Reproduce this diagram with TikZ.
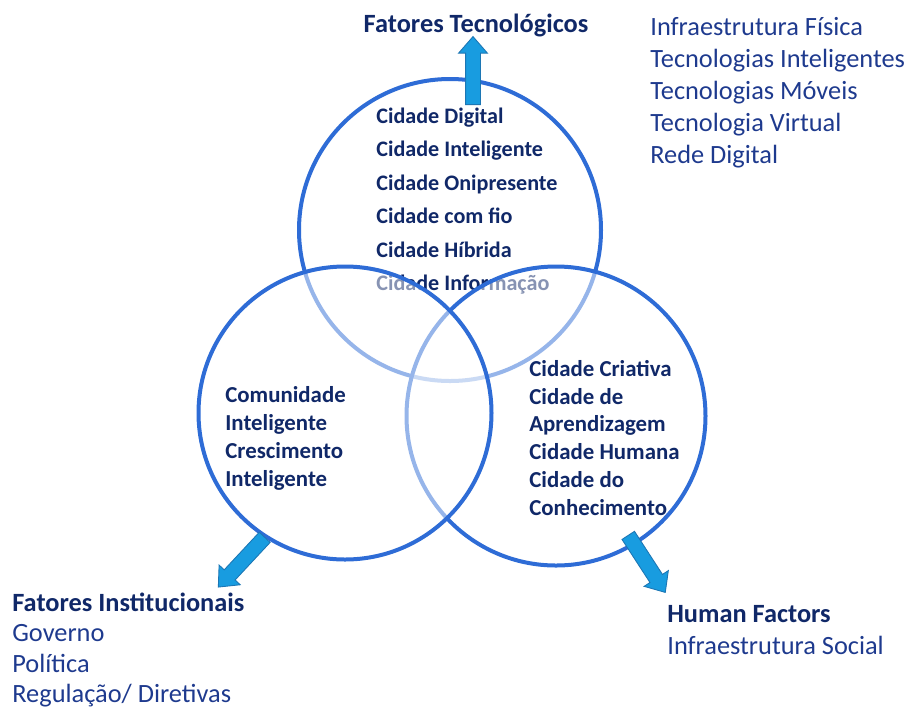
\documentclass[tikz,border=0pt]{standalone}
\usepackage{fontspec}
\setmainfont{Carlito}
\usepackage{tikz}
\usetikzlibrary{shapes.arrows, positioning}
\definecolor{citynavy}{RGB}{16, 40, 104}
\definecolor{cityblue}{RGB}{30, 58, 142}
\definecolor{ringblue}{RGB}{46, 108, 214}
\definecolor{arrowfill}{RGB}{24, 156, 224}
\definecolor{arrowedge}{RGB}{28, 118, 180}

\begin{document}
\begin{tikzpicture}[
    ring/.style={draw=ringblue, line width=0.08cm, fill=white, fill opacity=0.5},
    cityblock/.style={text=citynavy, align=left, anchor=west, inner sep=0pt},
    factorlist/.style={text=cityblue, align=left, anchor=west, inner sep=0pt},
    fatarrow/.style={single arrow, draw=arrowedge, fill=arrowfill, line width=0.5pt,
        minimum height=1.36cm, minimum width=0.56cm, single arrow head extend=0.14cm,
        single arrow tip angle=82, inner xsep=0pt, inner ysep=0.14cm, anchor=tail}
]
    \useasboundingbox (0,0) rectangle (18.18,-14.16);

    % technological circle, behind the other two
    \draw[ring] (9.0,-4.60) circle (3.02cm);
    \node[cityblock, font={\fontsize{12.6}{19.1}\selectfont\bfseries}] (digital) at (7.52,-4.02)
        {Cidade Digital\\Cidade Inteligente\\Cidade Onipresente\\Cidade com fio\\Cidade Híbrida\\Cidade Informação};

    % human circle
    \draw[ring] (11.12,-8.32) circle (2.99cm);
    \node[cityblock, font={\fontsize{13}{15.9}\selectfont\bfseries}] (creative) at (10.58,-8.76)
        {Cidade Criativa\\Cidade de\\Aprendizagem\\Cidade Humana\\Cidade do\\Conhecimento};

    % institutional circle, on top
    \draw[ring] (6.90,-8.26) circle (2.93cm);
    \node[cityblock, font={\fontsize{13}{15.9}\selectfont\bfseries}] (community) at (4.50,-8.76)
        {Comunidade\\Inteligente\\Crescimento\\Inteligente};

    \node[fatarrow, rotate=90] (techarrow) at (9.46,-2.10) {};
    \node[fatarrow, rotate=227] (instarrow) at (5.30,-10.74) {};
    \node[fatarrow, rotate=-57] (humanarrow) at (12.56,-10.70) {};

    \node[text=citynavy, font={\fontsize{15}{18}\selectfont\bfseries}] (tech) at (9.52,-0.50) {Fatores Tecnológicos};
    \node[factorlist, font={\fontsize{15}{18.2}\selectfont}] (techlist) at (13.0,-1.86)
        {Infraestrutura Física\\Tecnologias Inteligentes\\Tecnologias Móveis\\Tecnologia Virtual\\Rede Digital};

    \node[factorlist, font={\fontsize{15}{17.4}\selectfont}] (inst) at (0.24,-13.0)
        {\textcolor{citynavy}{\bfseries Fatores Institucionais}\\Governo\\Política\\Regulação/ Diretivas};

    \node[factorlist, font={\fontsize{15}{18.2}\selectfont}] (human) at (13.34,-12.6)
        {\textcolor{citynavy}{\bfseries Human Factors}\\Infraestrutura Social};
\end{tikzpicture}
\end{document}
